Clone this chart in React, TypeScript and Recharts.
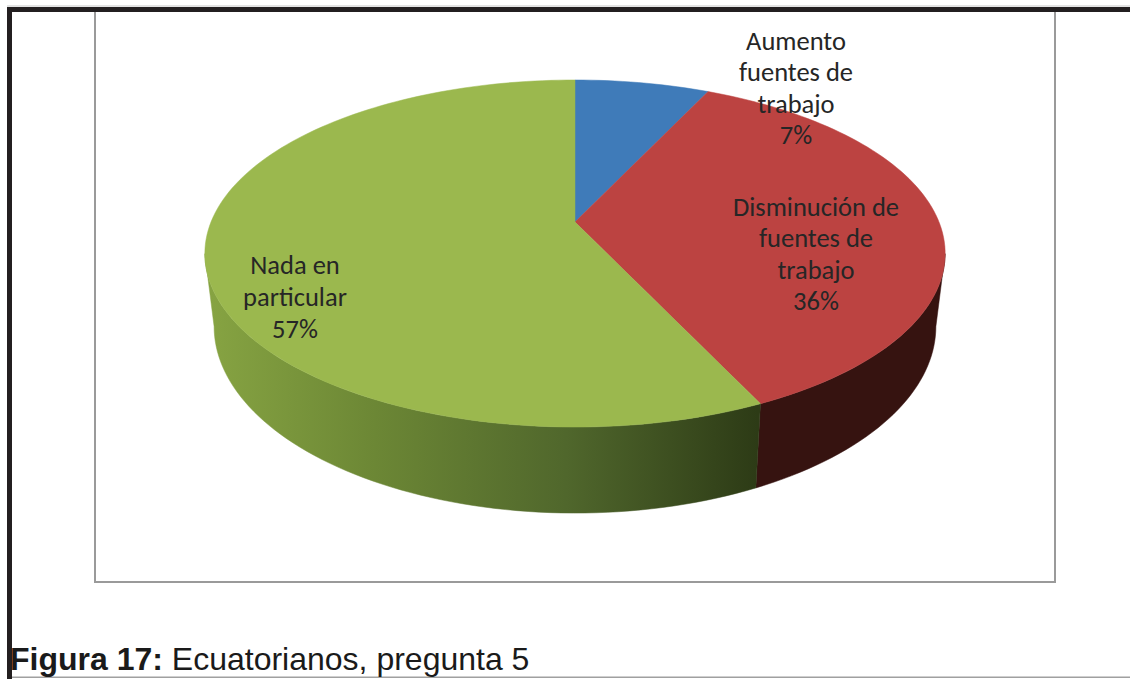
import React from 'react';
import { PieChart, Pie } from 'recharts';

const CATEGORIES = ['Aumento fuentes de trabajo', 'Disminución de fuentes de trabajo', 'Nada en particular'];
const VALUES = [7, 36, 57];
const LABEL_LINES = [
  ['Aumento', 'fuentes de', 'trabajo'],
  ['Disminución de', 'fuentes de', 'trabajo'],
  ['Nada en', 'particular'],
];

const TOP_COLORS = ['#3f7bb9', '#bc4341', '#9bb84e'];
const SIDE_COLORS = ['#1f3d5c', '#361310', 'url(#greenSide)'];

// label placement relative to pie centre (Excel "best fit")
const LABEL_OFFSETS = [
  { dx: 221, dy: -134 },
  { dx: 241, dy: 32 },
  { dx: -280, dy: 75 },
];

const data = CATEGORIES.map((name, i) => ({ name, value: VALUES[i] }));

// perspective tilt used for the 3d look
const TILT_C = 0.1816;
const TILT_B = -127.5;
const DEPTH = 70.4;
const BOTTOM_SCALE = 0.975;
const SIDE_MIN = -169.5;
const SIDE_MAX = -10.5;

const rad = (d: number) => (d * Math.PI) / 180;

function topPt(cx: number, cy: number, r: number, deg: number) {
  const u = Math.cos(rad(deg));
  const v = Math.sin(rad(deg));
  const w = 1 + TILT_C * v;
  return [cx + (r * u) / w, (cy + TILT_B * v) / w];
}

function botPt(cx: number, cy: number, r: number, deg: number) {
  const u = Math.cos(rad(deg));
  const v = Math.sin(rad(deg));
  const w = 1 + TILT_C * v;
  return [cx + (r * BOTTOM_SCALE * u) / w, (cy + TILT_B * v) / w + DEPTH / w];
}

function arc(from: number, to: number, f: (d: number) => number[]) {
  const n = Math.max(2, Math.ceil(Math.abs(to - from) / 1.5));
  const pts: string[] = [];
  for (let i = 0; i <= n; i++) {
    const d = from + ((to - from) * i) / n;
    const p = f(d);
    pts.push(`${p[0].toFixed(2)},${p[1].toFixed(2)}`);
  }
  return pts;
}

const Slice3D = (props: any) => {
  const { cx, cy, outerRadius, startAngle, endAngle, index } = props;
  const lo = Math.min(startAngle, endAngle);
  const hi = Math.max(startAngle, endAngle);

  const sides: string[] = [];
  for (const shift of [-360, 0, 360]) {
    const a = Math.max(lo + shift, SIDE_MIN);
    const b = Math.min(hi + shift, SIDE_MAX);
    if (b > a) {
      const top = arc(a, b, (d) => topPt(cx, cy, outerRadius, d));
      const bot = arc(b, a, (d) => botPt(cx, cy, outerRadius, d));
      sides.push('M' + top.join(' L') + ' L' + bot.join(' L') + ' Z');
    }
  }

  const rim = arc(startAngle, endAngle, (d) => topPt(cx, cy, outerRadius, d));
  const topPath = `M${cx},${cy} L` + rim.join(' L') + ' Z';

  return (
    <g>
      {index === 0 && (
        <defs>
          <linearGradient id="greenSide" gradientUnits="userSpaceOnUse" x1={cx - outerRadius} y1="0" x2={cx + outerRadius * 0.5} y2="0">
            <stop offset="0%" stopColor="#86a342" />
            <stop offset="30%" stopColor="#6c8735" />
            <stop offset="65%" stopColor="#50672c" />
            <stop offset="100%" stopColor="#2d3b16" />
          </linearGradient>
        </defs>
      )}
      {sides.map((d, i) => (
        <path key={i} d={d} fill={SIDE_COLORS[index]} stroke={SIDE_COLORS[index]} strokeWidth={0.5} />
      ))}
      <path d={topPath} fill={TOP_COLORS[index]} stroke={TOP_COLORS[index]} strokeWidth={0.5} />
    </g>
  );
};

const renderLabel = (props: any) => {
  const { cx, cy, index, percent } = props;
  const off = LABEL_OFFSETS[index];
  const lines = [...LABEL_LINES[index], `${Math.round(percent * 100)}%`];
  const x = cx + off.dx;
  const lineH = 31.6;
  const y0 = cy + off.dy - ((lines.length - 1) * lineH) / 2;
  return (
    <text
      key={`lbl-${index}`}
      x={x}
      y={y0}
      textAnchor="middle"
      dominantBaseline="central"
      fill="#262626"
      style={{ fontFamily: 'Carlito, Calibri, Lato, sans-serif', fontSize: 26.5 }}
    >
      {lines.map((t, i) => (
        <tspan key={i} x={x} y={y0 + i * lineH}>
          {t}
        </tspan>
      ))}
    </text>
  );
};

export default function App() {
  return (
    <div style={{ position: 'absolute', left: 0, top: 0, width: 1130, height: 679, background: '#fff' }}>
      <svg width={1130} height={679} style={{ position: 'absolute', left: 0, top: 0 }}>
        <rect x={7} y={5.5} width={1123} height={1} fill="#c8c8c8" />
        <rect x={7} y={7} width={1123} height={5} fill="#231f20" />
        <rect x={7} y={7} width={5} height={672} fill="#231f20" />
        <rect x={94} y={12} width={2} height={571} fill="#9a9a9a" />
        <rect x={1054} y={12} width={2} height={571} fill="#9a9a9a" />
        <rect x={94} y={581} width={962} height={2} fill="#9a9a9a" />
        <rect x={12} y={676.5} width={1118} height={1.5} fill="#a0a0a0" />
        <text x={10} y={670} fill="#1a1a1a" style={{ fontFamily: '"Liberation Sans", Arial, sans-serif', fontSize: 32 }}>
          <tspan fontWeight="bold">Figura 17:</tspan>
          <tspan> Ecuatorianos, pregunta 5</tspan>
        </text>
      </svg>
      <div style={{ position: 'absolute', left: 0, top: 0 }}>
        <PieChart width={1130} height={679} margin={{ top: 0, right: 0, bottom: 0, left: 0 }}>
          <Pie
            data={data}
            dataKey="value"
            nameKey="name"
            cx={575}
            cy={222}
            outerRadius={364}
            startAngle={90}
            endAngle={-270}
            stroke="none"
            shape={Slice3D}
            label={renderLabel}
            labelLine={false}
            isAnimationActive={false}
          />
        </PieChart>
      </div>
    </div>
  );
}
